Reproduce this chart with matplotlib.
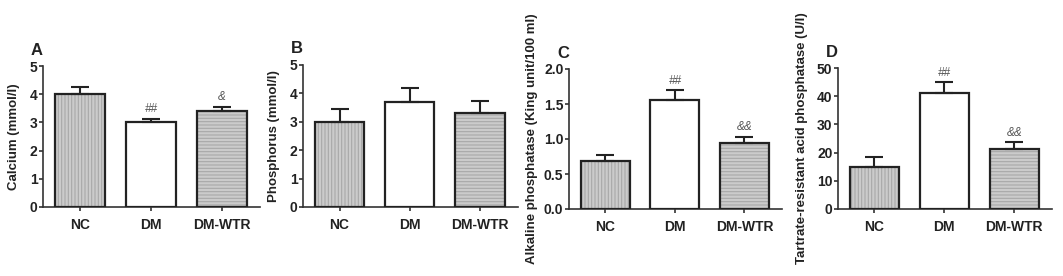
import matplotlib.pyplot as plt
import numpy as np

plt.rcParams['font.family'] = ['Liberation Sans', 'DejaVu Sans']
plt.rcParams['font.weight'] = 'bold'
plt.rcParams['hatch.linewidth'] = 0.8

# ---- data ----
groups = ["NC", "DM", "DM-WTR"]

calcium = [4.02, 3.0, 3.4]
calcium_err = [0.22, 0.12, 0.15]

phosphorus = [3.0, 3.68, 3.32]
phosphorus_err = [0.45, 0.5, 0.42]

alp = [0.69, 1.56, 0.94]
alp_err = [0.08, 0.14, 0.09]

trap = [14.8, 41.2, 21.4]
trap_err = [3.6, 3.8, 2.2]

panel_letters = ["A", "B", "C", "D"]
ylabels = ["Calcium (mmol/l)", "Phosphorus (mmol/l)",
           "Alkaline phosphatase (King unit/100 ml)",
           "Tartrate-resistant acid phosphatase (U/l)"]
yticks = [[0, 1, 2, 3, 4, 5], [0, 1, 2, 3, 4, 5],
          [0.0, 0.5, 1.0, 1.5, 2.0], [0, 10, 20, 30, 40, 50]]
ytick_labels = [["0", "1", "2", "3", "4", "5"], ["0", "1", "2", "3", "4", "5"],
                ["0.0", "0.5", "1.0", "1.5", "2.0"],
                ["0", "10", "20", "30", "40", "50"]]
marks = [["", "##", "&"], ["", "", ""], ["", "##", "&&"], ["", "##", "&&"]]

values = [calcium, phosphorus, alp, trap]
errors = [calcium_err, phosphorus_err, alp_err, trap_err]

# axes boxes in pixels: (left, right, bottom, top)
W, H = 1063, 276
boxes = [(43, 260, 207, 66), (303, 518, 207, 65),
         (569, 782, 209, 69), (838, 1052, 209, 68)]
ylab_x = [14, 274, 532, 802]

fig = plt.figure(figsize=(10.63, 2.76), dpi=100)

x = np.arange(len(groups))
fills = ['#cbcbcb', 'white', '#cbcbcb']
hatches = ['|||||', '', '-----']

for i in range(4):
    l, r, b, t = boxes[i]
    ax = fig.add_axes([l / W, 1 - b / H, (r - l) / W, (b - t) / H])
    vals = values[i]
    errs = errors[i]
    # hatched fill first, then black outline on top
    for j in range(3):
        ax.bar(x[j], vals[j], width=0.7, color=fills[j], hatch=hatches[j],
               edgecolor='#a8a8a8', linewidth=0, zorder=2)
    ax.bar(x, vals, width=0.7, fill=False, edgecolor='#222222',
           linewidth=1.6, zorder=3)
    ax.errorbar(x, vals, yerr=[np.zeros(3), errs], fmt='none',
                ecolor='#222222', elinewidth=1.5, capsize=6.5,
                capthick=1.5, zorder=4)
    top = yticks[i][-1]
    for j in range(3):
        if marks[i][j]:
            ax.text(x[j], vals[j] + errs[j] + top * 0.025, marks[i][j],
                    ha='center', va='bottom', fontsize=8.5, style='italic',
                    fontweight='normal', color='#555555')
    ax.set_xlim(-0.52, 2.54)
    ax.set_ylim(0, top)
    ax.set_yticks(yticks[i])
    ax.set_yticklabels(ytick_labels[i])
    ax.set_xticks(x)
    ax.set_xticklabels(groups)
    ax.spines['top'].set_visible(False)
    ax.spines['right'].set_visible(False)
    for s in ['left', 'bottom']:
        ax.spines[s].set_linewidth(1.2)
        ax.spines[s].set_color('#333333')
    ax.tick_params(direction='out', length=3, width=1.2, colors='#333333',
                   labelsize=10, labelcolor='#222222')
    ax.tick_params(axis='x', pad=5)
    ax.tick_params(axis='y', pad=1)
    ax.text(0.0, 1.06, panel_letters[i], transform=ax.transAxes,
            fontsize=12, fontweight='bold', ha='right', va='bottom',
            color='#222222')
    fig.text(ylab_x[i] / W, 1 - (b + t) / 2 / H, ylabels[i], rotation=90,
             ha='center', va='center', fontsize=9.5, fontweight='bold',
             color='#222222')

fig.savefig("out.png", dpi=100)
